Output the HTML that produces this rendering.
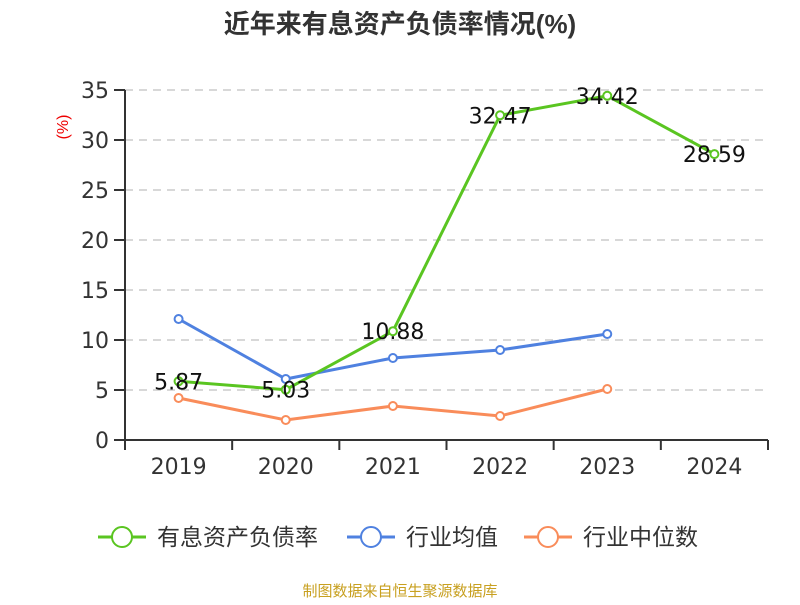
<!DOCTYPE html>
<html><head><meta charset="utf-8"><style>
body{margin:0;background:#fff;}
svg text{font-family:"Liberation Sans","Noto Sans CJK SC",sans-serif;}
svg text.num{font-family:"DejaVu Sans","Liberation Sans",sans-serif;}
</style></head><body>
<svg id="chart" width="800" height="600" viewBox="0 0 800 600">
<text x="400" y="33" text-anchor="middle" font-size="26" font-weight="bold" fill="#333">近年来有息资产负债率情况(%)</text>
<text transform="translate(68,127) rotate(-90)" text-anchor="middle" font-size="16" fill="#e00">(%)</text>
<g id="grid"></g><g id="axes"></g><g id="series"></g>
<g>
<g><line x1="98" y1="537" x2="146" y2="537" stroke="#5ac521" stroke-width="3"/><circle cx="122" cy="537" r="10" fill="#fff" stroke="#5ac521" stroke-width="2"/><text x="157" y="545" font-size="23" fill="#333">有息资产负债率</text></g>
<g><line x1="347" y1="537" x2="395" y2="537" stroke="#4f81e0" stroke-width="3"/><circle cx="371" cy="537" r="10" fill="#fff" stroke="#4f81e0" stroke-width="2"/><text x="406" y="545" font-size="23" fill="#333">行业均值</text></g>
<g><line x1="524" y1="537" x2="572" y2="537" stroke="#f98c5a" stroke-width="3"/><circle cx="548" cy="537" r="10" fill="#fff" stroke="#f98c5a" stroke-width="2"/><text x="583" y="545" font-size="23" fill="#333">行业中位数</text></g>
</g>
<text x="400" y="596" text-anchor="middle" font-size="15" fill="#c8a020">制图数据来自恒生聚源数据库</text>
</svg>
<script>
const categories=["2019","2020","2021","2022","2023","2024"];
const debtRatio=[5.87,5.03,10.88,32.47,34.42,28.59];
const industryAvg=[12.1,6.1,8.2,9.0,10.6,null];
const industryMedian=[4.2,2.0,3.4,2.4,5.1,null];
const yTicks=[0,5,10,15,20,25,30,35];
const NS="http://www.w3.org/2000/svg";
const x0=125,x1=768,yB=440,yT=90,yMax=35;
const bw=(x1-x0)/categories.length;
const X=i=>x0+bw*(i+0.5);
const Y=v=>yB-(v/yMax)*(yB-yT);
function mk(tag,attrs,parent){const e=document.createElementNS(NS,tag);for(const k in attrs)e.setAttribute(k,attrs[k]);parent.appendChild(e);return e;}
const grid=document.getElementById('grid'),axes=document.getElementById('axes'),ser=document.getElementById('series');
yTicks.forEach(t=>{
 if(t>0){const g=mk('line',{x1:x0,x2:x1,y1:Y(t),y2:Y(t),stroke:'#ccc','stroke-dasharray':'8,6','stroke-width':1.5},grid);
 
 }
 const tk=mk('line',{x1:x0-11,x2:x0,y1:Y(t),y2:Y(t),stroke:'#333','stroke-width':2},axes);
 
 
 const tx=mk('text',{x:x0-16,y:Y(t)+8,'text-anchor':'end','font-size':22,fill:'#333',class:'num'},axes);tx.textContent=t;
 
 
});
const ya=mk('line',{x1:x0,x2:x0,y1:yT,y2:yB,stroke:'#333','stroke-width':2},axes);


const xa=mk('line',{x1:x0,x2:x1,y1:yB,y2:yB,stroke:'#333','stroke-width':2},axes);


for(let i=0;i<=categories.length;i++){const tk=mk('line',{x1:x0+bw*i,x2:x0+bw*i,y1:yB,y2:yB+10,stroke:'#333','stroke-width':2},axes);
 
 }
categories.forEach((c,i)=>{const t=mk('text',{x:X(i),y:yB+34,'text-anchor':'middle','font-size':22,fill:'#333',class:'num'},axes);t.textContent=c;
 
 });
function series(vals,color,name,labels){
 const pts=[];vals.forEach((v,i)=>{if(v!=null)pts.push([X(i),Y(v),v]);});
 const p=mk('polyline',{points:pts.map(p=>p[0]+','+p[1]).join(' '),fill:'none',stroke:color,'stroke-width':3},ser);
 
 
 pts.forEach(q=>{const c=mk('circle',{cx:q[0],cy:q[1],r:4,fill:'#fff',stroke:color,'stroke-width':2},ser);
  
  
  if(labels){const t=mk('text',{x:q[0],y:q[1]+8,'text-anchor':'middle','font-size':22,fill:'#111',class:'num'},ser);t.textContent=q[2].toFixed(2);
   
   }
 });
}
series(industryMedian,'#f98c5a','industry-median',false);
series(industryAvg,'#4f81e0','industry-avg',false);
series(debtRatio,'#5ac521','debt-ratio',true);
</script>
</body></html>
